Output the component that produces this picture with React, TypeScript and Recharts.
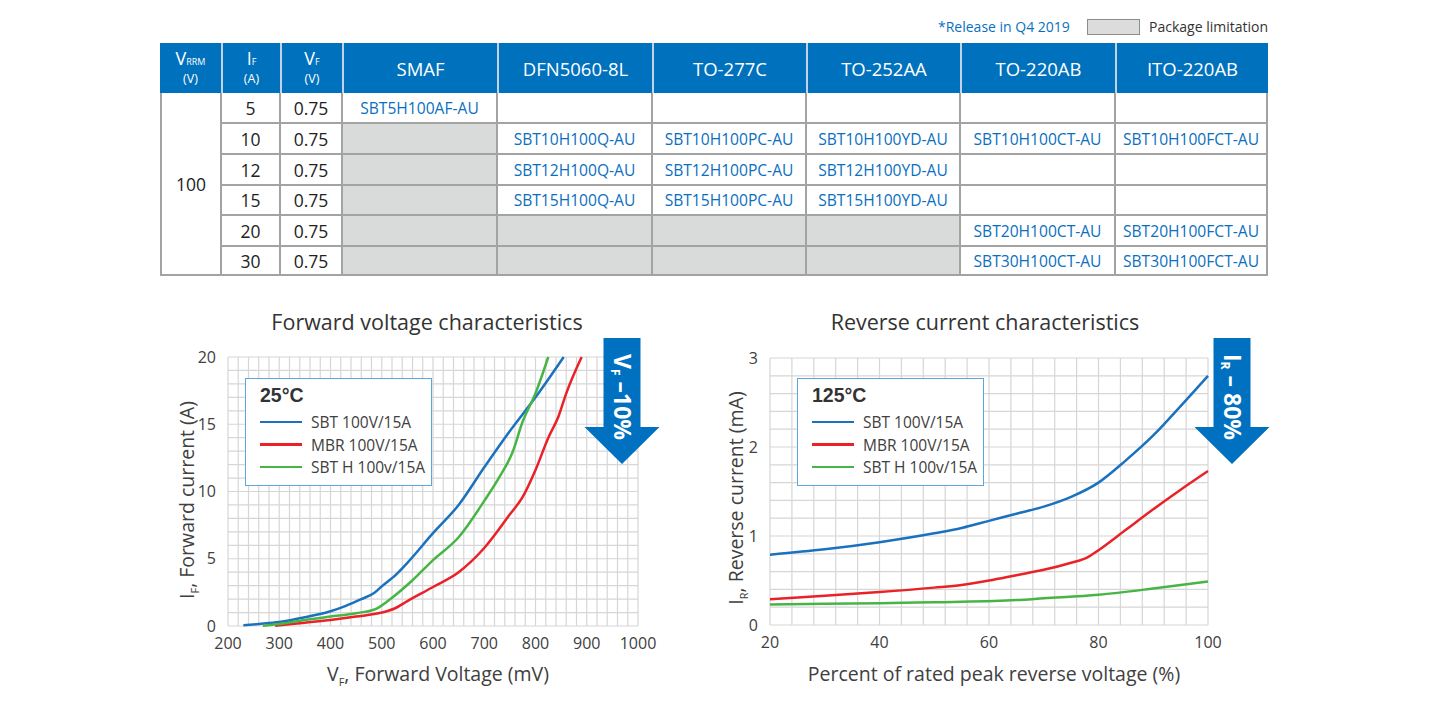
import React from "react";
import { LineChart, Line, XAxis, YAxis, CartesianGrid } from "recharts";

// ---- table data ----
const packages = ["SMAF", "DFN5060-8L", "TO-277C", "TO-252AA", "TO-220AB", "ITO-220AB"];
const vrrm = "100";
const ifValues = ["5", "10", "12", "15", "20", "30"];
const vfValues = ["0.75", "0.75", "0.75", "0.75", "0.75", "0.75"];
// null = package limitation (gray), "" = empty
const partRows: (string | null)[][] = [
  ["SBT5H100AF-AU", "", "", "", "", ""],
  [null, "SBT10H100Q-AU", "SBT10H100PC-AU", "SBT10H100YD-AU", "SBT10H100CT-AU", "SBT10H100FCT-AU"],
  [null, "SBT12H100Q-AU", "SBT12H100PC-AU", "SBT12H100YD-AU", "", ""],
  [null, "SBT15H100Q-AU", "SBT15H100PC-AU", "SBT15H100YD-AU", "", ""],
  [null, null, null, null, "SBT20H100CT-AU", "SBT20H100FCT-AU"],
  [null, null, null, null, "SBT30H100CT-AU", "SBT30H100FCT-AU"],
];

// ---- forward voltage (mV, A) ----
const fwdSbt = [
  [230, 0.05], [260, 0.15], [300, 0.3], [350, 0.65], [400, 1.1], [430, 1.5], [460, 2.0],
  [485, 2.45], [500, 2.95], [530, 3.9], [550, 4.7], [600, 6.9], [650, 9.0], [700, 11.8],
  [750, 14.5], [800, 17.0], [855, 20],
].map(([v, i]) => ({ v, i }));
const fwdMbr = [
  [292, 0.02], [350, 0.25], [400, 0.45], [450, 0.7], [500, 1.0], [525, 1.3], [550, 1.85],
  [600, 2.9], [650, 4.0], [700, 5.8], [750, 8.3], [775, 9.6], [800, 11.6], [825, 14.0],
  [845, 15.6], [860, 17.3], [890, 20],
].map(([v, i]) => ({ v, i }));
const fwdSbtH = [
  [268, 0.02], [300, 0.15], [350, 0.45], [400, 0.7], [450, 0.95], [490, 1.3], [520, 2.1],
  [560, 3.4], [600, 4.9], [650, 6.6], [700, 9.3], [730, 11.1], [755, 12.9], [775, 15.2],
  [800, 17.3], [825, 20],
].map(([v, i]) => ({ v, i }));
const fwdXLabels = [200, 300, 400, 500, 600, 700, 800, 900, 1000];
const fwdYLabels = [0, 5, 10, 15, 20];

// ---- reverse current (% of VRRM, mA) ----
const revSbt = [
  [20, 0.79], [30, 0.85], [40, 0.93], [50, 1.03], [55, 1.09], [60, 1.17], [65, 1.25],
  [70, 1.33], [75, 1.44], [80, 1.6], [85, 1.85], [90, 2.13], [95, 2.46], [100, 2.8],
].map(([p, i]) => ({ p, i }));
const revMbr = [
  [20, 0.29], [30, 0.33], [40, 0.37], [50, 0.42], [55, 0.45], [60, 0.5], [65, 0.56],
  [70, 0.62], [75, 0.7], [78, 0.76], [80, 0.84], [85, 1.07], [90, 1.3], [95, 1.52], [100, 1.73],
].map(([p, i]) => ({ p, i }));
const revSbtH = [
  [20, 0.23], [30, 0.24], [40, 0.245], [50, 0.255], [55, 0.26], [65, 0.28], [70, 0.3],
  [80, 0.34], [90, 0.41], [100, 0.49],
].map(([p, i]) => ({ p, i }));
const revXLabels = [20, 40, 60, 80, 100];
const revYLabels = [0, 1, 2, 3];

const seriesNames = ["SBT 100V/15A", "MBR 100V/15A", "SBT H 100v/15A"];

// minor grid steps
const steps = (from: number, to: number, step: number) => {
  const out: number[] = [];
  for (let k = 0; from + k * step <= to + 1e-9; k++) out.push(Math.round((from + k * step) * 1000) / 1000);
  return out;
};
const fwdXTicks = steps(200, 1000, 20);
const fwdYTicks = steps(0, 20, 1);
const revXTicks = steps(20, 100, 4);
const revYTicks = steps(0, 3, 0.2);

const BLUE = "#1a72bf";
const RED = "#ea2127";
const GREEN = "#47b545";
const colors = [BLUE, RED, GREEN];
const FONT = "'Open Sans', sans-serif";
const TEXT = "#404040";
const GRID = "#d6d6d6";

const colX = [160, 221, 280, 342, 497, 652, 806, 960, 1115, 1268];
const rowY = [93, 123, 154, 185, 215, 246, 276];

function HeadSym({ main, sub, unit }: { main: string; sub: string; unit: string }) {
  return (
    <div style={{ position: "relative", width: 56, height: 44 }}>
      <div style={{ position: "absolute", left: 0, right: 0, top: 2, fontSize: 18, lineHeight: "20px", whiteSpace: "nowrap" }}>
        {main}<span style={{ fontSize: 9 }}>{sub}</span>
      </div>
      <div style={{ position: "absolute", left: 0, right: 0, top: 26, fontSize: 12.5, lineHeight: "14px" }}>{unit}</div>
    </div>
  );
}

function SpecTable() {
  const L = colX[0];
  const W = colX[9] - L;
  const headTop = 43;
  const head = [
    <HeadSym key="h0" main="V" sub="RRM" unit="(V)" />,
    <HeadSym key="h1" main="I" sub="F" unit="(A)" />,
    <HeadSym key="h2" main="V" sub="F" unit="(V)" />,
    ...packages.map((p) => <span key={p} style={{ fontSize: 18.5 }}>{p}</span>),
  ];
  const cells: React.ReactNode[] = [];
  const cell = (key: string, c0: number, c1: number, r0: number, r1: number, bg: string, content: React.ReactNode) => {
    const left = colX[c0] - L + (c0 === 0 ? 2 : 1);
    const right = colX[c1] - L - (c1 === 9 ? 2 : 1);
    const top = rowY[r0] - rowY[0] + (r0 === 0 ? 0 : 1);
    const bottom = rowY[r1] - rowY[0] - (r1 === 6 ? 2 : 1);
    cells.push(
      <div key={key} style={{ position: "absolute", left, top, width: right - left, height: bottom - top, background: bg,
        display: "flex", alignItems: "center", justifyContent: "center" }}>{content}</div>
    );
  };
  const num = { fontSize: 17.5, color: "#222" };
  cell("vrrm", 0, 1, 0, 6, "#fff", <span style={num}>{vrrm}</span>);
  ifValues.forEach((v, r) => {
    cell("if" + r, 1, 2, r, r + 1, "#fff", <span style={num}>{v}</span>);
    cell("vf" + r, 2, 3, r, r + 1, "#fff", <span style={num}>{vfValues[r]}</span>);
    partRows[r].forEach((p, k) => {
      cell(`p${r}-${k}`, k + 3, k + 4, r, r + 1, p === null ? "#d9dbda" : "#fff",
        p ? <span style={{ fontSize: 15.6, color: "#0a6fc0" }}>{p}</span> : null);
    });
  });
  return (
    <>
      {head.map((h, c) => (
        <div key={"head" + c} style={{ position: "absolute", left: colX[c], top: headTop, width: colX[c + 1] - colX[c],
          height: rowY[0] - headTop, boxSizing: "border-box", background: "#0071bc", color: "#fff",
          borderLeft: c > 0 ? "2px solid #c3d3e3" : "none", display: "flex", alignItems: "center",
          justifyContent: "center", textAlign: "center" }}>{h}</div>
      ))}
      <div style={{ position: "absolute", left: L, top: rowY[0], width: W, height: rowY[6] - rowY[0], background: "#a3a3a3" }}>
        {cells}
      </div>
      <div style={{ position: "absolute", left: 938, top: 17, fontSize: 14, color: "#0a6fc0", whiteSpace: "nowrap" }}>*Release in Q4 2019</div>
      <div style={{ position: "absolute", left: 1087, top: 19, width: 53, height: 16, boxSizing: "border-box",
        background: "#dcdcdc", border: "1px solid #8c8c8c" }} />
      <div style={{ position: "absolute", left: 1149, top: 17, fontSize: 14, color: "#333", whiteSpace: "nowrap" }}>Package limitation</div>
    </>
  );
}

function LegendBox({ left, top, title }: { left: number; top: number; title: string }) {
  return (
    <div style={{ position: "absolute", left, top, width: 187, height: 108, boxSizing: "border-box",
      border: "1.5px solid #5ba6dd", background: "#fff" }}>
      <div style={{ position: "absolute", left: 14, top: 5, fontFamily: "'Liberation Sans', Arial, sans-serif",
        fontWeight: "bold", fontSize: 19.5, color: "#333" }}>{title}</div>
      {seriesNames.map((n, k) => (
        <div key={n} style={{ position: "absolute", left: 14, top: 33 + k * 22.5, height: 20, display: "flex", alignItems: "center" }}>
          <div style={{ width: 42, height: 2.5, background: colors[k] }} />
          <span style={{ marginLeft: 9, fontSize: 15.5, color: TEXT, whiteSpace: "nowrap" }}>{n}</span>
        </div>
      ))}
    </div>
  );
}

function Arrow({ cx, main, sub, rest }: { cx: number; main: string; sub: string; rest: string }) {
  const top = 338, rectBottom = 427, tip = 464;
  return (
    <svg style={{ position: "absolute", left: cx - 40, top: top }} width={80} height={tip - top + 2}>
      <polygon
        points={`${40 - 18.5},0 ${40 + 18.5},0 ${40 + 18.5},${rectBottom - top} ${40 + 37.5},${rectBottom - top} 40,${tip - top} ${40 - 37.5},${rectBottom - top} ${40 - 18.5},${rectBottom - top}`}
        fill="#0070c0" />
      <text transform={`translate(41,${397 - top}) rotate(90)`} textAnchor="middle" dominantBaseline="central"
        fill="#fff" fontFamily={FONT} fontWeight="bold" fontSize={23}>
        {main}<tspan fontSize={12} dy={7}>{sub}</tspan><tspan dy={-7}>{rest}</tspan>
      </text>
    </svg>
  );
}

const LABEL = 19.5;
const rotLabel = (cx: number, cy: number, node: React.ReactNode) => (
  <div style={{ position: "absolute", left: cx, top: cy, transform: "translate(-50%,-50%) rotate(-90deg)",
    whiteSpace: "nowrap", fontSize: LABEL, color: TEXT }}>{node}</div>
);
const centerLabel = (cx: number, cy: number, node: React.ReactNode, size = LABEL, color = TEXT) => (
  <div style={{ position: "absolute", left: cx, top: cy, transform: "translate(-50%,-50%)",
    whiteSpace: "nowrap", fontSize: size, color }}>{node}</div>
);
const sub = (s: string) => <span style={{ fontSize: 11, position: "relative", top: 5 }}>{s}</span>;

const tickStyle = { fill: TEXT, fontSize: 16, fontFamily: FONT };

function ForwardChart() {
  return (
    <div style={{ position: "absolute", left: 160, top: 300 }}>
      <LineChart width={520} height={400} margin={{ top: 57, right: 42, bottom: 0, left: 0 }}>
        <CartesianGrid stroke={GRID} strokeWidth={1.2} />
        <XAxis dataKey="v" type="number" domain={[200, 1000]} ticks={fwdXTicks} interval={0}
          tickFormatter={(v: number) => (fwdXLabels.includes(v) ? String(v) : "")}
          axisLine={false} tickLine={false} tickSize={0} tickMargin={12} height={74} tick={tickStyle} />
        <YAxis type="number" domain={[0, 20]} ticks={fwdYTicks} interval={0}
          tickFormatter={(v: number) => (fwdYLabels.includes(v) ? String(v) : "")}
          axisLine={false} tickLine={false} tickSize={0} tickMargin={12} width={68} tick={tickStyle} />
        {[fwdSbt, fwdMbr, fwdSbtH].map((d, k) => (
          <Line key={k} data={d} dataKey="i" type="monotone" stroke={colors[k]} strokeWidth={2.5}
            dot={false} isAnimationActive={false} />
        ))}
      </LineChart>
    </div>
  );
}

function ReverseChart() {
  return (
    <div style={{ position: "absolute", left: 700, top: 300 }}>
      <LineChart width={580} height={400} margin={{ top: 58, right: 72, bottom: 0, left: 0 }}>
        <CartesianGrid stroke={GRID} strokeWidth={1.2} />
        <XAxis dataKey="p" type="number" domain={[20, 100]} ticks={revXTicks} interval={0}
          tickFormatter={(v: number) => (revXLabels.includes(v) ? String(v) : "")}
          axisLine={false} tickLine={false} tickSize={0} tickMargin={12} height={75} tick={tickStyle} />
        <YAxis type="number" domain={[0, 3]} ticks={revYTicks} interval={0}
          tickFormatter={(v: number) => (revYLabels.includes(v) ? String(v) : "")}
          axisLine={false} tickLine={false} tickSize={0} tickMargin={12} width={70} tick={tickStyle} />
        {[revSbt, revMbr, revSbtH].map((d, k) => (
          <Line key={k} data={d} dataKey="i" type="monotone" stroke={colors[k]} strokeWidth={2.5}
            dot={false} isAnimationActive={false} />
        ))}
      </LineChart>
    </div>
  );
}

export default function App() {
  return (
    <div style={{ position: "absolute", left: 0, top: 0, width: 1430, height: 719, background: "#fff",
      fontFamily: FONT, overflow: "hidden" }}>
      <SpecTable />
      {centerLabel(427, 321, "Forward voltage characteristics", 21.5, "#333")}
      {centerLabel(985, 321, "Reverse current characteristics", 21.5, "#333")}
      <ForwardChart />
      <ReverseChart />
      <LegendBox left={245} top={378} title="25°C" />
      <LegendBox left={797} top={378} title="125°C" />
      <Arrow cx={621.5} main="V" sub="F" rest=" –10%" />
      <Arrow cx={1231.5} main="I" sub="R" rest=" – 80%" />
      {rotLabel(186, 500, <>I{sub("F")}, Forward current (A)</>)}
      {rotLabel(735, 498, <>I{sub("R")}, Reverse current (mA)</>)}
      {centerLabel(438, 673, <>V{sub("F")}, Forward Voltage (mV)</>)}
      {centerLabel(994, 673, "Percent of rated peak reverse voltage (%)")}
    </div>
  );
}
